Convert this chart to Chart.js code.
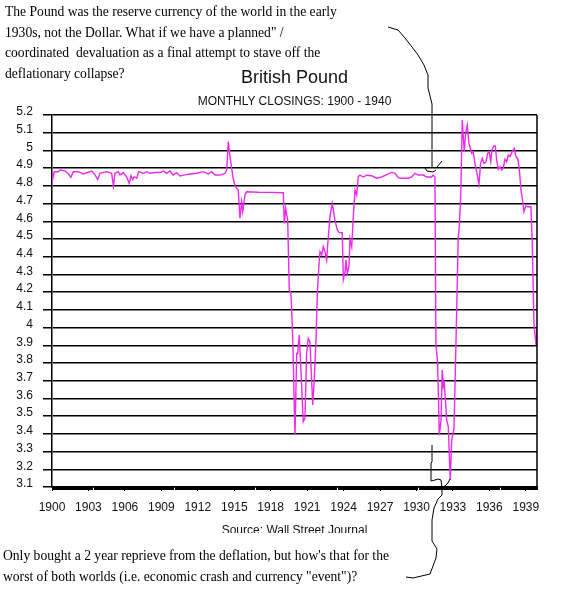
<!DOCTYPE html>
<html>
<head>
<meta charset="utf-8">
<script src="https://cdn.jsdelivr.net/npm/chart.js@4"></script>
<style>
    html, body { margin: 0; padding: 0; background: #fff; }
    #wrap { position: relative; width: 579px; height: 601px; overflow: hidden; }
    #chart { position: absolute; left: 0; top: 0; }
    .note { position: absolute; font-family: "Liberation Serif", "Times New Roman", serif; font-size: 13.6px; color: #000; white-space: nowrap; }
    .head { position: absolute; left: 52px; width: 485px; text-align: center; font-family: "Liberation Sans", Arial, sans-serif; color: #111; white-space: nowrap; }
</style>
</head>
<body>
<div id="wrap">
    <canvas id="chart" width="579" height="601"></canvas>
    <div class="note" style="left:5px; top:2px; line-height:20.5px;">
        The Pound was the reserve currency of the world in the early<br>
        1930s, not the Dollar. What if we have a planned" /<br>
        coordinated&nbsp; devaluation as a final attempt to stave off the<br>
        deflationary collapse?
    </div>
    <div class="head" style="top:67px; font-size:18px;">British Pound</div>
    <div class="head" style="top:94px; font-size:12px;">MONTHLY CLOSINGS: 1900 - 1940</div>
    <div class="head" style="top:523px; font-size:12px; height:10px; overflow:hidden; line-height:14px;">Source: Wall Street Journal</div>
    <div class="note" style="left:3px; top:546px; line-height:20.5px;">
        Only bought a 2 year reprieve from the deflation, but how's that for the<br>
        worst of both worlds (i.e. economic crash and currency "event")?
    </div>
</div>
<script>
// British pound, monthly closings
const dates = [
    1900.00, 1900.06, 1900.19, 1900.52, 1900.66, 1901.07, 1901.32, 1901.56, 1901.75, 1902.16,
    1902.58, 1903.27, 1903.54, 1903.76, 1903.95, 1904.50, 1904.91, 1905.05, 1905.19, 1905.46,
    1905.60, 1905.87, 1906.15, 1906.36, 1906.50, 1906.64, 1906.77, 1906.97, 1907.14, 1907.51,
    1907.79, 1908.07, 1908.48, 1908.89, 1909.16, 1909.44, 1909.71, 1909.98, 1910.26, 1910.53,
    1910.95, 1911.36, 1911.91, 1912.45, 1912.86, 1913.14, 1913.42, 1913.83, 1914.24, 1914.38,
    1914.51, 1914.65, 1914.79, 1914.92, 1915.06, 1915.33, 1915.47, 1915.61, 1915.70, 1915.88,
    1916.02, 1917.00, 1918.00, 1919.04, 1919.12, 1919.23, 1919.40, 1919.53, 1919.67, 1919.81,
    1920.00, 1920.14, 1920.22, 1920.35, 1920.49, 1920.68, 1920.82, 1920.96, 1921.09, 1921.23,
    1921.46, 1921.59, 1921.73, 1921.84, 1921.98, 1922.06, 1922.20, 1922.33, 1922.47, 1922.61,
    1922.69, 1922.88, 1923.07, 1923.29, 1923.48, 1923.65, 1923.89, 1923.98, 1924.12, 1924.20,
    1924.30, 1924.44, 1924.53, 1924.67, 1924.80, 1924.94, 1925.08, 1925.21, 1925.35, 1925.62,
    1925.90, 1926.31, 1926.72, 1927.14, 1927.68, 1927.96, 1928.23, 1928.50, 1928.78, 1929.33,
    1929.60, 1929.88, 1930.15, 1930.56, 1930.84, 1931.25, 1931.38, 1931.52, 1931.60, 1931.74,
    1931.88, 1932.02, 1932.12, 1932.21, 1932.29, 1932.49, 1932.62, 1932.78, 1932.90, 1933.09,
    1933.25, 1933.44, 1933.52, 1933.64, 1933.77, 1933.93, 1934.05, 1934.18, 1934.32, 1934.54,
    1934.67, 1934.81, 1934.98, 1935.14, 1935.28, 1935.42, 1935.56, 1935.72, 1935.86, 1935.99,
    1936.11, 1936.21, 1936.35, 1936.49, 1936.60, 1936.73, 1936.87, 1937.01, 1937.14, 1937.28,
    1937.42, 1937.56, 1937.70, 1937.88, 1938.05, 1938.19, 1938.33, 1938.46, 1938.60, 1938.71,
    1938.85, 1938.99, 1939.20, 1939.42, 1939.53, 1939.67, 1939.84, 1939.94
];
const closes = [
    4.874, 4.840, 4.880, 4.880, 4.889, 4.885, 4.870, 4.848, 4.880, 4.880,
    4.867, 4.884, 4.862, 4.837, 4.871, 4.880, 4.871, 4.800, 4.871, 4.880,
    4.862, 4.875, 4.850, 4.814, 4.857, 4.835, 4.852, 4.843, 4.880, 4.871,
    4.880, 4.871, 4.875, 4.875, 4.884, 4.871, 4.884, 4.861, 4.875, 4.856,
    4.862, 4.867, 4.871, 4.880, 4.867, 4.880, 4.861, 4.861, 4.870, 4.890,
    5.050, 4.965, 4.900, 4.840, 4.800, 4.777, 4.617, 4.710, 4.654, 4.748,
    4.767, 4.764, 4.763, 4.761, 4.588, 4.673, 4.607, 4.212, 4.193, 3.948,
    3.393, 3.854, 3.854, 3.958, 3.760, 3.468, 3.487, 3.854, 3.939, 3.920,
    3.563, 3.713, 3.930, 4.193, 4.363, 4.428, 4.410, 4.456, 4.428, 4.381,
    4.466, 4.626, 4.700, 4.607, 4.551, 4.536, 4.536, 4.272, 4.315, 4.381,
    4.306, 4.343, 4.500, 4.456, 4.626, 4.776, 4.748, 4.852, 4.861, 4.850,
    4.860, 4.857, 4.843, 4.850, 4.867, 4.876, 4.871, 4.846, 4.843, 4.843,
    4.850, 4.871, 4.861, 4.861, 4.850, 4.850, 4.861, 4.850, 3.911, 3.798,
    3.393, 3.478, 3.760, 3.666, 3.685, 3.478, 3.440, 3.139, 3.365, 3.431,
    3.911, 4.513, 4.569, 4.739, 5.172, 4.993, 5.097, 5.144, 5.040, 4.984,
    4.993, 4.927, 4.871, 4.810, 4.927, 4.955, 4.927, 4.936, 4.984, 4.993,
    4.936, 5.002, 5.025, 5.025, 4.946, 4.893, 4.908, 4.890, 4.900, 4.950,
    4.936, 4.974, 4.965, 4.993, 5.012, 4.965, 4.955, 4.900, 4.777, 4.730,
    4.654, 4.686, 4.682, 4.682, 4.476, 4.024, 3.901, 3.996
];
const xTicks = [1900, 1903, 1906, 1909, 1912, 1915, 1918, 1921, 1924, 1927, 1930, 1933, 1936, 1939];
const yTicks = [3.1, 3.2, 3.3, 3.4, 3.5, 3.6, 3.7, 3.8, 3.9, 4, 4.1, 4.2, 4.3, 4.4, 4.5, 4.6, 4.7, 4.8, 4.9, 5, 5.1, 5.2];

// hand drawn pointer lines from the notes (page pixels)
const topArrow = [[388,27],[398,30],[405,38],[412,47],[418,55],[424,65],[428,75],[428,88],[430,96],[432,104],[432,168]];
const topHook = [[425,168],[427,171],[433,172],[436,170]];
const topTip = [[437,167],[442,161]];
const bottomArrow = [[432,445],[432,462],[431,463],[431,481],[435,480],[438,479],[441,480],[442,488],[442,495],[438,499],[434,508],[432,520],[432,541],[437,549],[436,558],[430,574],[413,578],[406,577]];
const bottomTip = [[442,487],[445,486],[448,483],[450,479]];

const frame = {
    id: 'frame',
    afterDraw(chart) {
        const { ctx, chartArea } = chart;
        const x = chart.scales.x;
        ctx.save();
        ctx.strokeStyle = '#000';
        ctx.lineWidth = 1.5;
        ctx.beginPath();
        ctx.moveTo(chartArea.right, chartArea.top);
        ctx.lineTo(chartArea.right, chartArea.bottom + 1);
        ctx.stroke();
        // monthly ticks along the bottom axis
        ctx.lineWidth = 1;
        ctx.beginPath();
        for (let m = 1900 * 12; m <= 1939 * 12 + 11; m++) {
            const px = Math.round(x.getPixelForValue(m / 12)) + 0.5;
            ctx.moveTo(px, chartArea.bottom);
            ctx.lineTo(px, chartArea.bottom + 3);
        }
        ctx.stroke();
        ctx.lineWidth = 1;
        [topArrow, topHook, topTip, bottomArrow, bottomTip].forEach(path => {
            ctx.beginPath();
            path.forEach((p, i) => i ? ctx.lineTo(p[0], p[1]) : ctx.moveTo(p[0], p[1]));
            ctx.stroke();
        });
        ctx.restore();
    }
};

new Chart(document.getElementById('chart'), {
    type: 'line',
    data: {
        datasets: [{
            data: dates.map((d, i) => ({ x: d, y: closes[i] })),
            borderColor: 'rgb(238,40,238)',
            borderWidth: 1.4,
            pointRadius: 0,
            tension: 0,
            fill: false
        }]
    },
    options: {
        responsive: false,
        animation: false,
        events: [],
        layout: { padding: { top: 115, right: 42, bottom: 0, left: 0 } },
        plugins: { legend: { display: false }, tooltip: { enabled: false } },
        scales: {
            x: {
                type: 'linear',
                min: 1900,
                max: 1939.92,
                afterBuildTicks: s => { s.ticks = xTicks.map(v => ({ value: v })); },
                afterFit: s => { s.height = 114; },
                grid: { display: true, drawOnChartArea: false, color: '#000', tickLength: 4, lineWidth: 1 },
                border: { display: true, color: '#000', width: 1.5 },
                ticks: {
                    autoSkip: false,
                    maxRotation: 0,
                    padding: 9,
                    color: '#111',
                    font: { family: 'Liberation Sans, Arial, sans-serif', size: 12 },
                    callback: v => String(v)
                }
            },
            y: {
                min: 3.1,
                max: 5.2,
                afterBuildTicks: s => { s.ticks = yTicks.map(v => ({ value: v })); },
                afterFit: s => { s.width = 52; },
                grid: { color: '#000', lineWidth: 1.5, tickLength: 9 },
                border: { display: true, color: '#000', width: 1.5 },
                ticks: {
                    autoSkip: false,
                    padding: 10,
                    labelOffset: -3,
                    color: '#111',
                    font: { family: 'Liberation Sans, Arial, sans-serif', size: 12 },
                    callback: v => String(Number(v.toFixed(1)))
                }
            }
        }
    },
    plugins: [frame]
});
</script>
</body>
</html>
